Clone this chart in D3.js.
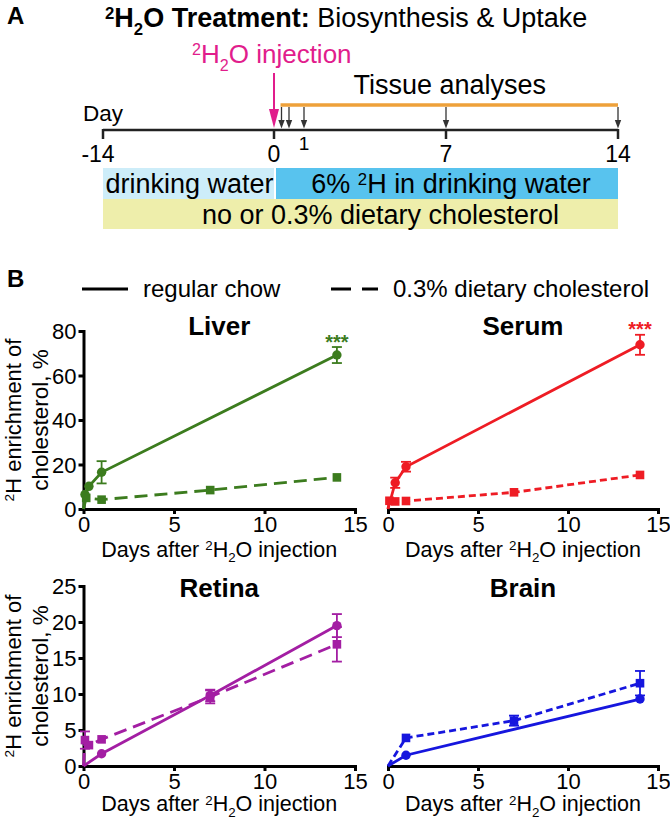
<!DOCTYPE html>
<html><head><meta charset="utf-8">
<script src="https://cdn.jsdelivr.net/npm/d3@7"></script>
<style>body{margin:0;background:#fff} svg{display:block}</style>
</head><body><svg id="c" width="670" height="821"></svg>
<script>
// ---------- Panel A data ----------
const timelineTicks = [-14, 0, 7, 14];
const timelineSmallTicks = [1];
const analysisDays = [0.25, 0.5, 1, 7, 14];
const injectionDay = 0;
const periodLabels = ["drinking water", "6% ²H in drinking water", "no or 0.3% dietary cholesterol"];
const periodStart = [-14, 0, -14];
const periodEnd = [0, 14, 14];

// ---------- Panel B data (days, % enrichment, error) ----------
const xTicks = [0, 5, 10, 15];
const liverChowDays = [0, 0.08, 0.3, 1, 14];
const liverChowVals = [0, 6.5, 10.2, 16.5, 69.2];
const liverChowErr  = [0, 1.0, 1.2, 5.0, 3.6];
const liverCholDays = [0, 0.15, 1, 7, 14];
const liverCholVals = [0, 5.0, 4.2, 8.5, 14.2];
const liverCholErr  = [0, 1.0, 0.6, 0.8, 0.8];

const serumChowDays = [0, 0.4, 1, 14];
const serumChowVals = [0, 11.8, 19.0, 73.8];
const serumChowErr  = [0, 2.3, 2.2, 4.5];
const serumCholDays = [0, 0.08, 0.4, 1, 7, 14];
const serumCholVals = [0, 3.7, 3.4, 3.6, 7.5, 15.3];
const serumCholErr  = [0, 0.6, 0.5, 0.5, 0.6, 0.7];

const retinaChowDays = [0, 1, 7, 14];
const retinaChowVals = [0, 1.7, 9.8, 19.5];
const retinaChowErr  = [0, 0.2, 0.8, 1.6];
const retinaCholDays = [0, 0.08, 0.3, 1, 7, 14];
const retinaCholVals = [0, 3.6, 2.9, 3.7, 9.6, 16.9];
const retinaCholErr  = [0, 1.2, 0.4, 0.3, 0.9, 2.4];

const brainChowDays = [0, 1, 14];
const brainChowVals = [0, 1.5, 9.3];
const brainChowErr  = [0, 0.1, 0.3];
const brainCholDays = [0, 1, 7, 14];
const brainCholVals = [0, 3.9, 6.3, 11.5];
const brainCholErr  = [0, 0.2, 0.7, 1.7];

const liverTicks = [0, 20, 40, 60, 80];
const retinaTicks = [0, 5, 10, 15, 20, 25];

// ---------- helpers ----------
const FONT = '"Liberation Sans", Arial, Helvetica, sans-serif';
const svg = d3.select("#c").attr("font-family", FONT);

function rich(t, parts, base, subShift = 0.3) {
  let shift = 0;
  parts.forEach(p => {
    const ts = t.append("tspan");
    let target = p.sup ? -0.3 * base : (p.sub ? subShift * base : 0);
    ts.attr("dy", target - shift);
    shift = target;
    if (p.sup || p.sub) ts.attr("font-size", 0.62 * base);
    if (p.bold) ts.attr("font-weight", "bold");
    ts.text(p.t);
  });
  return t;
}
const H2O = (bold) => [{t:"2", sup:true, bold}, {t:"H", bold}, {t:"2", sub:true, bold}, {t:"O", bold}];

// ---------- Panel A ----------
svg.append("text").attr("x", 7).attr("y", 24).attr("font-size", 24).attr("font-weight", "bold").text("A");
rich(svg.append("text").attr("x", 105).attr("y", 27).attr("font-size", 27),
  [...H2O(true), {t:" Treatment:", bold:true}, {t:" Biosynthesis & Uptake"}], 27);

const tl = d3.scaleLinear().domain([-14, 0, 1, 7, 14]).range([103, 274, 304, 446, 618]);

// colored period bars
const barY = [168, 168, 199], barH = [31, 31, 30];
const barFill = ["#cdedf9", "#58c3ee", "#eeeeab"];
periodLabels.forEach((lab, i) => {
  svg.append("rect").attr("x", tl(periodStart[i]) + (i === 1 ? 2 : 0)).attr("y", barY[i])
    .attr("width", tl(periodEnd[i]) - tl(periodStart[i]) - (i === 1 ? 2 : 0)).attr("height", barH[i]).attr("fill", barFill[i]);
});
const labelX = [(tl(-14) + tl(0)) / 2 + 1, (tl(0) + tl(14)) / 2 + 5, (tl(-14) + tl(14)) / 2 + 20];
periodLabels.forEach((lab, i) => {
  const t = svg.append("text").attr("x", labelX[i]).attr("y", barY[i] + barH[i] / 2 + 9.5)
    .attr("font-size", 27).attr("text-anchor", "middle");
  if (i === 1) rich(t, [{t:"6% "}, {t:"2", sup:true}, {t:"H in drinking water"}], 27);
  else t.text(lab);
});

// timeline
svg.append("line").attr("x1", tl(-14)).attr("x2", tl(14)).attr("y1", 130).attr("y2", 130)
  .attr("stroke", "#222").attr("stroke-width", 2.5);
timelineTicks.forEach(d => {
  svg.append("line").attr("x1", tl(d)).attr("x2", tl(d)).attr("y1", 129).attr("y2", 139)
    .attr("stroke", "#222").attr("stroke-width", 2.5);
  svg.append("text").attr("x", tl(d)).attr("y", 162).attr("font-size", 23)
    .attr("text-anchor", "middle").attr("dx", d < 0 ? -5 : 0).text(d);
});
timelineSmallTicks.forEach(d => {
  svg.append("text").attr("x", tl(d)).attr("y", 150).attr("font-size", 19)
    .attr("text-anchor", "middle").text(d);
});
svg.append("text").attr("x", 83).attr("y", 120.5).attr("font-size", 22.5).text("Day");

// orange analyses bar and arrows
svg.append("line").attr("x1", tl(analysisDays[0]) - 1).attr("x2", tl(14)).attr("y1", 105).attr("y2", 105)
  .attr("stroke", "#eea13a").attr("stroke-width", 3.5);
svg.append("text").attr("x", (tl(analysisDays[0]) + tl(14)) / 2).attr("y", 94).attr("font-size", 27)
  .attr("text-anchor", "middle").text("Tissue analyses");
analysisDays.forEach(d => {
  const x = tl(d);
  svg.append("line").attr("x1", x).attr("x2", x).attr("y1", 107).attr("y2", 122)
    .attr("stroke", "#333").attr("stroke-width", 1.3);
  svg.append("path").attr("d", `M${x-3.2},120 L${x+3.2},120 L${x},128.5 Z`).attr("fill", "#333");
});
// injection arrow
const ix = tl(injectionDay);
svg.append("line").attr("x1", ix).attr("x2", ix).attr("y1", 73).attr("y2", 112)
  .attr("stroke", "#e11d8c").attr("stroke-width", 2);
svg.append("path").attr("d", `M${ix-5},109 L${ix+5},109 L${ix},128 Z`).attr("fill", "#e11d8c");
rich(svg.append("text").attr("x", 192).attr("y", 63).attr("font-size", 26).attr("fill", "#e11d8c"),
  [...H2O(false), {t:" injection"}], 26);

// ---------- Panel B ----------
svg.append("text").attr("x", 7).attr("y", 287).attr("font-size", 24).attr("font-weight", "bold").text("B");
svg.append("line").attr("x1", 82).attr("x2", 128).attr("y1", 289).attr("y2", 289).attr("stroke", "#000").attr("stroke-width", 3);
svg.append("text").attr("x", 143).attr("y", 297).attr("font-size", 24).text("regular chow");
svg.append("line").attr("x1", 331).attr("x2", 378).attr("y1", 289).attr("y2", 289).attr("stroke", "#000")
  .attr("stroke-width", 3).attr("stroke-dasharray", "20,11");
svg.append("text").attr("x", 393).attr("y", 297).attr("font-size", 24).text("0.3% dietary cholesterol");

const colX = [[83.5, 355], [388, 658]];
const rowY = [[509, 331], [766, 586]];
const titleOff = [4, 11];
const xTitleOff = [47.5, 45];
const MARK = 4.5;

const panels = [
  {name:"Liver", color:"#3c7c1e", col:0, row:0, yMax:80, yTicks:liverTicks, yAxis:true, dash:"13,7", sig:"***",
   chow:[liverChowDays, liverChowVals, liverChowErr], chol:[liverCholDays, liverCholVals, liverCholErr]},
  {name:"Serum", color:"#ee1c24", col:1, row:0, yMax:80, yTicks:liverTicks, yAxis:false, dash:"7,4", sig:"***",
   chow:[serumChowDays, serumChowVals, serumChowErr], chol:[serumCholDays, serumCholVals, serumCholErr]},
  {name:"Retina", color:"#a31ea3", col:0, row:1, yMax:25, yTicks:retinaTicks, yAxis:true, dash:"13,7", sig:null,
   chow:[retinaChowDays, retinaChowVals, retinaChowErr], chol:[retinaCholDays, retinaCholVals, retinaCholErr]},
  {name:"Brain", color:"#1616de", col:1, row:1, yMax:25, yTicks:retinaTicks, yAxis:false, dash:"7,4", sig:null,
   chow:[brainChowDays, brainChowVals, brainChowErr], chol:[brainCholDays, brainCholVals, brainCholErr]}
];

function styleAxis(a) {
  a.select(".domain").attr("stroke-width", 3).attr("stroke-linecap", "square").attr("stroke", "#000");
  a.selectAll(".tick line").attr("stroke-width", 3).attr("stroke", "#000");
  a.selectAll(".tick text").attr("font-size", 22).attr("font-family", FONT).attr("fill", "#000");
}

panels.forEach(p => {
  const x = d3.scaleLinear().domain([0, 15]).range(colX[p.col]);
  const y = d3.scaleLinear().domain([0, p.yMax]).range(rowY[p.row]);
  const g = svg.append("g");

  const xa = g.append("g").attr("transform", `translate(0,${y(0)})`)
    .call(d3.axisBottom(x).tickValues(xTicks).tickSize(5).tickSizeOuter(0).tickPadding(2));
  styleAxis(xa);
  if (p.yAxis) {
    const ya = g.append("g").attr("transform", `translate(${x(0)},0)`)
      .call(d3.axisLeft(y).tickValues(p.yTicks).tickSize(5).tickSizeOuter(0).tickPadding(2));
    styleAxis(ya);
    ya.selectAll(".tick text").attr("dy", "0.36em");
    const my = (y(0) + y(p.yMax)) / 2;
    rich(g.append("text").attr("transform", `translate(20.5,${my}) rotate(-90)`).attr("text-anchor", "middle").attr("font-size", 22),
      [{t:"2", sup:true}, {t:"H enrichment of"}], 22);
    g.append("text").attr("transform", `translate(47.5,${my}) rotate(-90)`).attr("text-anchor", "middle")
      .attr("font-size", 22.5).text("cholesterol, %");
  }
  // x title
  rich(g.append("text").attr("x", (x(0) + x(15)) / 2).attr("y", y(0) + xTitleOff[p.row]).attr("text-anchor", "middle").attr("font-size", 21.5),
    [{t:"Days after "}, ...H2O(false), {t:" injection"}], 21.5, 0.26);
  // panel title
  g.append("text").attr("x", (x(0) + x(15)) / 2).attr("y", y(p.yMax) + titleOff[p.row])
    .attr("text-anchor", "middle").attr("font-size", 26).attr("font-weight", "bold").text(p.name);

  const line = d3.line().x(d => x(d[0])).y(d => y(d[1]));
  [[p.chol, true], [p.chow, false]].forEach(([s, dashed]) => {
    const pts = s[0].map((d, i) => [d, s[1][i], s[2][i]]);
    g.append("path").datum(pts).attr("d", line).attr("fill", "none").attr("stroke", p.color)
      .attr("stroke-width", 2.8).attr("stroke-dasharray", dashed ? p.dash : null);
    const mk = pts.filter(d => d[0] > 0);
    // error bars are only visible where they reach beyond the marker
    mk.filter(d => (y(d[1] - d[2]) - y(d[1] + d[2])) / 2 > MARK).forEach(d => {
      const y1 = y(d[1] - d[2]), y2 = y(d[1] + d[2]), cx = x(d[0]);
      g.append("line").attr("x1", cx).attr("x2", cx).attr("y1", y1).attr("y2", y2).attr("stroke", p.color).attr("stroke-width", 1.8);
      [y1, y2].forEach(yy => g.append("line").attr("x1", cx - 5).attr("x2", cx + 5).attr("y1", yy).attr("y2", yy)
        .attr("stroke", p.color).attr("stroke-width", 1.8));
    });
    if (dashed) {
      g.selectAll(null).data(mk).enter().append("rect")
        .attr("x", d => x(d[0]) - 4.3).attr("y", d => y(d[1]) - 4.3).attr("width", 8.6).attr("height", 8.6).attr("fill", p.color);
    } else {
      g.selectAll(null).data(mk).enter().append("circle")
        .attr("cx", d => x(d[0])).attr("cy", d => y(d[1])).attr("r", 4.7).attr("fill", p.color);
    }
  });
  if (p.sig) {
    const n = p.chow[0].length - 1;
    g.append("text").attr("x", x(p.chow[0][n])).attr("y", y(p.chow[1][n] + p.chow[2][n]) + 1.5)
      .attr("text-anchor", "middle").attr("font-size", 20).attr("font-weight", "bold").attr("fill", p.color).text(p.sig);
  }
});
</script></body></html>
